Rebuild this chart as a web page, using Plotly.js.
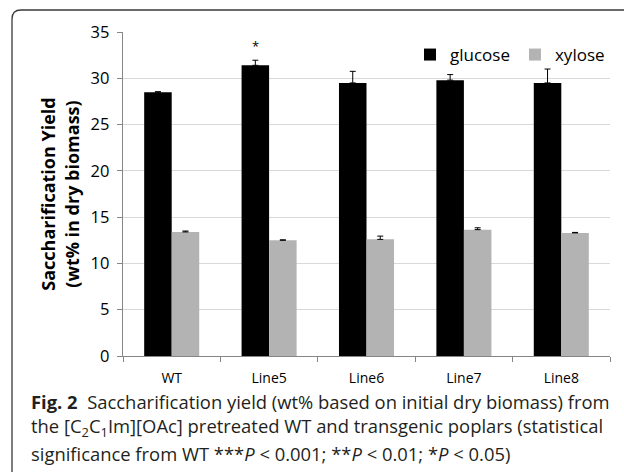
<!DOCTYPE html>
<html>
<head>
<meta charset="utf-8">
<script src="https://cdn.plot.ly/plotly-3.0.1.min.js"></script>
<style>html,body{margin:0;padding:0;background:#fff;}</style>
</head>
<body>
<div id="chart" style="width:624px;height:472px;"></div>
<script>
const categories = ['WT', 'Line5', 'Line6', 'Line7', 'Line8'];
const glucose = [28.5, 31.4, 29.5, 29.8, 29.5];
const glucoseErr = [0.05, 0.55, 1.25, 0.6, 1.5];
const xylose = [13.4, 12.5, 12.6, 13.65, 13.3];
const xyloseErr = [0.1, 0.05, 0.35, 0.2, 0.05];
const significance = ['', '*', '', '', ''];
const yTicks = [0, 5, 10, 15, 20, 25, 30, 35];

const W = 624, H = 472;
const M = {l: 123, r: 14, t: 32, b: 116};
const PW = W - M.l - M.r, PH = H - M.t - M.b;
const px = x => (x - M.l) / PW;
const py = y => (H - M.b - y) / PH;

const FONT = '"Open Sans", "Noto Sans", sans-serif';

const traces = [
  {
    type: 'bar', name: 'glucose', x: categories, y: glucose,
    marker: {color: '#000000'},
    error_y: {type: 'data', array: glucoseErr, arrayminus: glucoseErr.map(() => 0), symmetric: false,
              color: '#000000', thickness: 1, width: 3}
  },
  {
    type: 'bar', name: 'xylose', x: categories, y: xylose,
    marker: {color: '#b3b3b3'},
    error_y: {type: 'data', array: xyloseErr, arrayminus: xyloseErr.map(() => 0), symmetric: false,
              color: '#000000', thickness: 1, width: 3}
  }
];

const annotations = [];
significance.forEach((s, i) => {
  if (s) {
    annotations.push({
      x: categories[i], y: glucose[i] + glucoseErr[i], xref: 'x', yref: 'y',
      text: s, showarrow: false, xshift: -13.7, yshift: 14,
      font: {family: FONT, size: 13, color: '#000'}
    });
  }
});

const capLines = [
  '<b>Fig. 2</b>  Saccharification yield (wt% based on initial dry biomass) from',
  'the [C<sub>2</sub>C<sub>1</sub>Im][OAc] pretreated WT and transgenic poplars (statistical',
  'significance from WT ***<i>P</i> &lt; 0.001; **<i>P</i> &lt; 0.01; *<i>P</i> &lt; 0.05)'
];
const capY = [401, 427, 453];
capLines.forEach((t, i) => {
  annotations.push({
    x: px(29), y: py(capY[i]), xref: 'paper', yref: 'paper',
    xanchor: 'left', yanchor: 'middle', text: t, showarrow: false,
    font: {family: FONT, size: 18.4, color: '#231f20'}
  });
});

const layout = {
  width: W, height: H,
  margin: M,
  paper_bgcolor: '#ffffff', plot_bgcolor: '#ffffff',
  barmode: 'group', bargap: 0.435, bargroupgap: 0,
  showlegend: true,
  legend: {orientation: 'h', x: px(410), y: py(37), xanchor: 'left', yanchor: 'top',
           font: {family: FONT, size: 17, color: '#000'}, bgcolor: 'rgba(0,0,0,0)',
           traceorder: 'normal', itemwidth: 30},
  xaxis: {
    type: 'category', tickson: 'boundaries', ticks: 'outside', ticklen: 5, tickcolor: '#868686',
    showline: true, linecolor: '#868686', linewidth: 1.3, ticklabelstandoff: 9,
    tickfont: {family: FONT, size: 14, color: '#000'}, showgrid: false, fixedrange: true
  },
  yaxis: {
    range: [0, 35], tickvals: yTicks, ticktext: yTicks.map(String),
    ticks: 'outside', ticklen: 5, tickcolor: '#868686',
    showline: true, linecolor: '#868686', linewidth: 1.3, ticklabelstandoff: 4,
    showgrid: true, gridcolor: '#d9d9d9', gridwidth: 1.2, zeroline: false,
    tickfont: {family: FONT, size: 16.5, color: '#000'},
    title: {text: '<b>Saccharification Yield<br>(wt% in dry biomass)</b>', standoff: 6,
            font: {family: FONT, size: 18, color: '#000'}}
  },
  annotations: annotations,
  shapes: [{
    type: 'path', xref: 'paper', yref: 'paper',
    path: `M ${px(12)} ${py(480)} L ${px(12)} ${py(19)} Q ${px(12)} ${py(10)} ${px(21)} ${py(10)} L ${px(630)} ${py(10)}`,
    line: {color: '#3a3a3a', width: 1.3}
  }]
};

Plotly.newPlot('chart', traces, layout, {displayModeBar: false, staticPlot: true});
</script>
</body>
</html>
